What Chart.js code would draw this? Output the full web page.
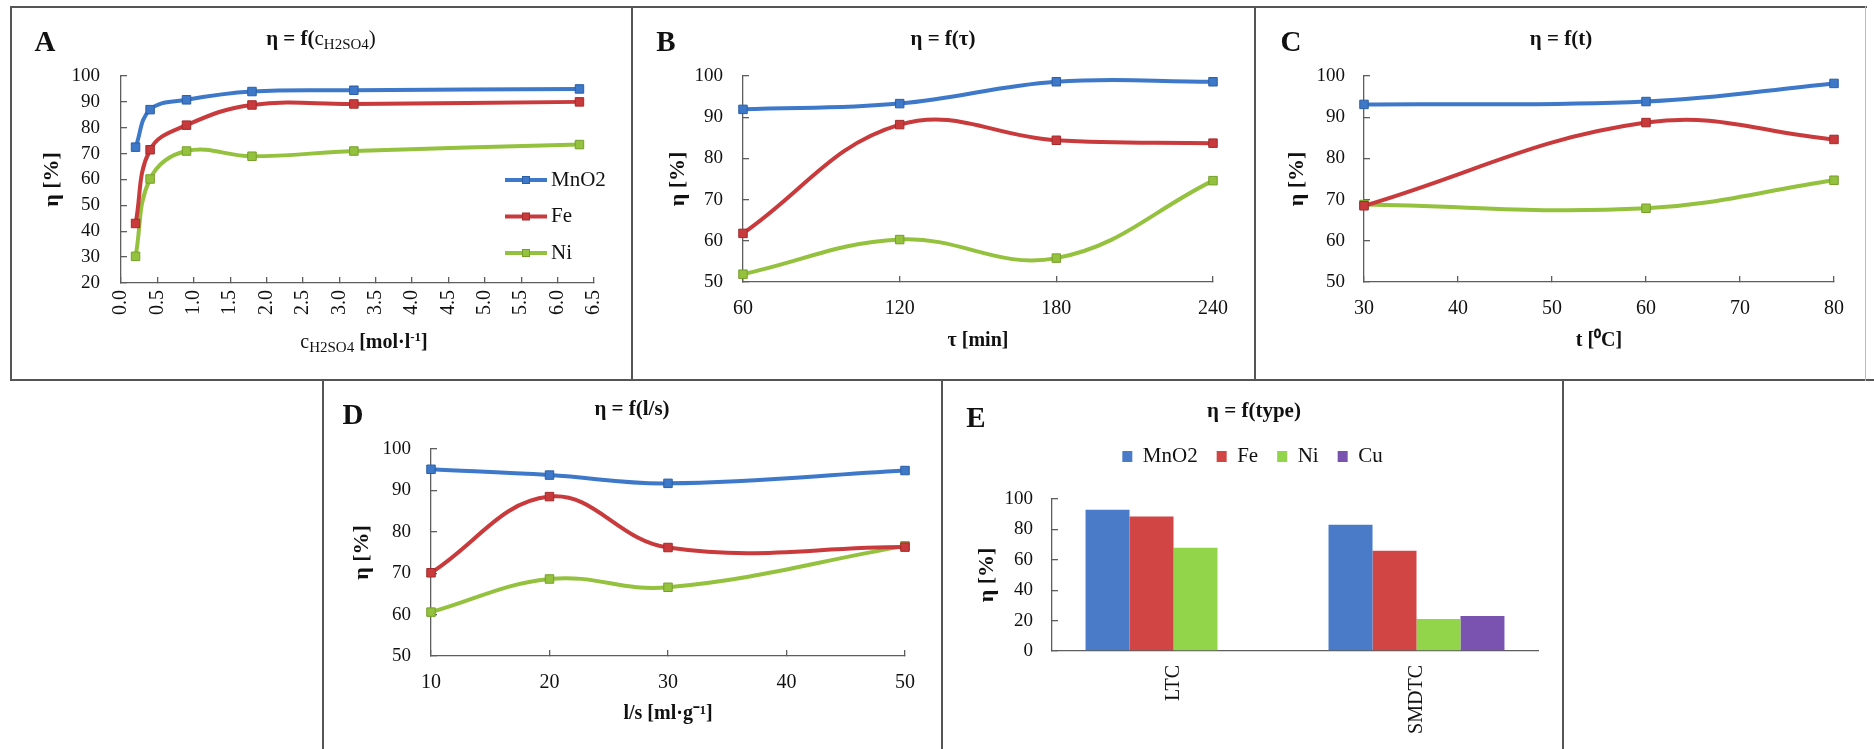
<!DOCTYPE html>
<html><head><meta charset="utf-8">
<script src="https://cdn.jsdelivr.net/npm/chart.js@4.4.1/dist/chart.umd.min.js"></script>
<style>
html,body{margin:0;padding:0;background:#fff;}
body{width:1874px;height:749px;position:relative;overflow:hidden;font-family:"Liberation Serif","Times New Roman",serif;color:#111;}
canvas{position:absolute;}
.ln{position:absolute;background:#555;pointer-events:none;}
.t{position:absolute;transform:translate(-50%,-50%);white-space:nowrap;font-weight:bold;font-size:21px;line-height:1;}
.lt{position:absolute;transform:translate(-50%,-50%);font-weight:bold;font-size:29px;line-height:1;}
.n{font-weight:normal;}
.sb{font-size:15px;position:relative;top:4px;}
.sp{font-size:13px;position:relative;top:-7px;}
</style></head><body>

<!-- panel frames -->
<div class="ln" style="left:10px;top:6px;width:1857px;height:2px"></div>
<div class="ln" style="left:10px;top:379px;width:1864px;height:2px"></div>
<div class="ln" style="left:10px;top:6px;width:2px;height:375px"></div>
<div class="ln" style="left:631px;top:6px;width:2px;height:375px"></div>
<div class="ln" style="left:1254px;top:6px;width:2px;height:375px"></div>
<div class="ln" style="left:1865px;top:6px;width:1px;height:375px;background:#bbb"></div>
<div class="ln" style="left:322px;top:380px;width:2px;height:369px"></div>
<div class="ln" style="left:941px;top:380px;width:2px;height:369px"></div>
<div class="ln" style="left:1562px;top:380px;width:2px;height:369px"></div>

<canvas id="cA" width="620" height="371" style="left:11px;top:8px;width:620px;height:371px"></canvas>
<canvas id="cB" width="621" height="371" style="left:633px;top:8px;width:621px;height:371px"></canvas>
<canvas id="cC" width="609" height="371" style="left:1256px;top:8px;width:609px;height:371px"></canvas>
<canvas id="cD" width="617" height="367" style="left:324px;top:382px;width:617px;height:367px"></canvas>
<canvas id="cE" width="619" height="367" style="left:943px;top:382px;width:619px;height:367px"></canvas>

<!-- panel letters and titles -->
<div class="lt" style="left:45px;top:41px">A</div>
<div class="lt" style="left:666px;top:41px">B</div>
<div class="lt" style="left:1291px;top:41px">C</div>
<div class="lt" style="left:353px;top:414px">D</div>
<div class="lt" style="left:976px;top:417px">E</div>

<div class="t" style="left:321px;top:38px">η = f(<span class="n">c<span class="sb">H2SO4</span>)</span></div>
<div class="t" style="left:943px;top:38px">η = f(τ)</div>
<div class="t" style="left:1561px;top:38px">η = f(t)</div>
<div class="t" style="left:632px;top:408px">η = f(l/s)</div>
<div class="t" style="left:1254px;top:410px">η = f(type)</div>
<div class="t" style="left:364px;top:341px;font-size:20px"><span class="n">c<span class="sb">H2SO4</span></span> [mol·l<span class="sp">-1</span>]</div>

<script>
// ---------- data ----------
const seriesNames = ['MnO2', 'Fe', 'Ni', 'Cu'];

// A: eta = f(c H2SO4)
const aConc = [0.2, 0.4, 0.9, 1.8, 3.2, 6.3];
const aMnO2 = [72.5, 87, 90.8, 94, 94.5, 95];
const aFe   = [43, 71.5, 81, 88.8, 89.2, 90];
const aNi   = [30.3, 60.2, 71, 69, 71, 73.5];
const aXTicks  = [0, 0.5, 1, 1.5, 2, 2.5, 3, 3.5, 4, 4.5, 5, 5.5, 6, 6.5];
const aXLabels = ['0.0','0.5','1.0','1.5','2.0','2.5','3.0','3.5','4.0','4.5','5.0','5.5','6.0','6.5'];

// B: eta = f(tau)
const bTime = [60, 120, 180, 240];
const bMnO2 = [91.9, 93.3, 98.6, 98.6];
const bFe   = [61.8, 88.2, 84.4, 83.7];
const bNi   = [51.9, 60.3, 55.8, 74.6];
const bXTicks  = [60, 120, 180, 240];
const bXLabels = ['60', '120', '180', '240'];

// C: eta = f(t)
const cTemp = [30, 60, 80];
const cMnO2 = [93.1, 93.8, 98.2];
const cFe   = [68.5, 88.7, 84.6];
const cNi   = [68.8, 67.9, 74.7];
const cXTicks  = [30, 40, 50, 60, 70, 80];
const cXLabels = ['30', '40', '50', '60', '70', '80'];

// D: eta = f(l/s)
const dRatio = [10, 20, 30, 50];
const dMnO2 = [95.1, 93.7, 91.7, 94.8];
const dFe   = [70.1, 88.5, 76.2, 76.3];
const dNi   = [60.6, 68.6, 66.6, 76.6];
const dXTicks  = [10, 20, 30, 40, 50];
const dXLabels = ['10', '20', '30', '40', '50'];

// E: eta = f(type)
const eTypes = ['LTC', 'SMDTC'];
const eMnO2 = [93, 83];
const eFe   = [88.5, 66];
const eNi   = [68, 21];
const eCu   = [null, 23];

// ---------- styles ----------
const SERIF = '"Liberation Serif","Times New Roman",serif';
const TXT = '#111', AX = '#5e5e5e';
const LINE_COL = {MnO2: '#3D78C9', Fe: '#C93A3C', Ni: '#94C13E'};
const EDGE_COL = {MnO2: '#2C5EA6', Fe: '#A42A2C', Ni: '#769F2A'};
const BAR_COL  = {MnO2: '#4A7BC9', Fe: '#D24545', Ni: '#92D44A', Cu: '#7A52B0'};
Chart.defaults.font.family = SERIF;
Chart.defaults.color = TXT;

function legendImage(name) {
  const c = document.createElement('canvas');
  c.width = 42; c.height = 12;
  const g = c.getContext('2d');
  g.strokeStyle = LINE_COL[name]; g.lineWidth = 4;
  g.beginPath(); g.moveTo(0, 6); g.lineTo(42, 6); g.stroke();
  g.fillStyle = LINE_COL[name]; g.fillRect(17, 2, 8, 8);
  g.strokeStyle = EDGE_COL[name]; g.lineWidth = 1; g.strokeRect(17.5, 2.5, 7, 7);
  return c;
}

function placeLegend(l, t, r, b) {
  return { id: 'placeLegend', afterLayout(chart) {
    const lg = chart.legend; if (!lg) return;
    lg.left = l; lg.top = t; lg.right = r; lg.bottom = b; lg.width = r - l; lg.height = b - t;
  }};
}

function axisGrid() {
  return { display: true, drawOnChartArea: false, drawTicks: true, tickLength: -6, color: AX, lineWidth: 1.3 };
}

function lineChart(id, g, xs, xTicks, xLabels, yMin, yMax, yStep, series, xTitle, legendOpts, plugins) {
  return new Chart(document.getElementById(id), {
    type: 'line',
    data: { datasets: series.map(s => ({
      label: s.name,
      data: xs.map((x, i) => ({x: x, y: s.values[i]})),
      borderColor: LINE_COL[s.name], backgroundColor: LINE_COL[s.name],
      borderWidth: 4, tension: 0.4, clip: false,
      pointStyle: 'rect', pointRadius: 6, pointBackgroundColor: LINE_COL[s.name],
      pointBorderColor: EDGE_COL[s.name], pointBorderWidth: 1
    })) },
    options: {
      responsive: false, animation: false, devicePixelRatio: 1,
      layout: { padding: { top: g.pt, right: g.pr, left: 0, bottom: 0 } },
      plugins: { legend: legendOpts || { display: false }, tooltip: { enabled: false }, title: { display: false } },
      scales: {
        x: {
          type: 'linear', min: xTicks[0], max: xTicks[xTicks.length - 1],
          afterBuildTicks: s => { s.ticks = xTicks.map(v => ({ value: v })); },
          afterFit: s => { s.height = g.xh; },
          grid: axisGrid(),
          border: { display: true, color: AX, width: 1.3 },
          ticks: { autoSkip: false, minRotation: g.rot, maxRotation: g.rot, padding: g.xtp, color: TXT,
                   font: { size: 20 }, callback: (v, i) => xLabels[i] },
          title: xTitle ? { display: true, text: xTitle, color: TXT, font: { size: 20, weight: 'bold' },
                            padding: { top: 0, bottom: g.xtt } } : { display: false }
        },
        y: {
          min: yMin, max: yMax,
          afterFit: s => { s.width = g.yw; },
          grid: axisGrid(),
          border: { display: true, color: AX, width: 1.3 },
          ticks: { stepSize: yStep, padding: g.ytp, color: TXT, font: { size: 19 } },
          title: { display: true, text: 'η [%]', color: TXT, font: { size: 22, weight: 'bold' },
                   padding: { top: g.ytt, bottom: 0 } }
        }
      }
    },
    plugins: plugins || []
  });
}

// A
lineChart('cA', { pt: 68, pr: 23, xh: 96, yw: 110, ytp: 27, xtp: 13, ytt: 28, xtt: 0, rot: 90 },
  aConc, aXTicks, aXLabels, 20, 100, 10,
  [{ name: 'MnO2', values: aMnO2 }, { name: 'Fe', values: aFe }, { name: 'Ni', values: aNi }],
  null,
  { display: true, position: 'chartArea', align: 'start',
    labels: { usePointStyle: true, pointStyleWidth: 29, padding: 15.5, color: TXT, font: { size: 21 },
      generateLabels: chart => Chart.defaults.plugins.legend.labels.generateLabels(chart).map(l =>
        Object.assign(l, { pointStyle: legendImage(chart.data.datasets[l.datasetIndex].label) })) } },
  [placeLegend(485, 146, 620, 345)]);

// B
lineChart('cB', { pt: 68, pr: 41, xh: 97, yw: 110, ytp: 26, xtp: 21, ytt: 32, xtt: 26, rot: 0 },
  bTime, bXTicks, bXLabels, 50, 100, 10,
  [{ name: 'MnO2', values: bMnO2 }, { name: 'Fe', values: bFe }, { name: 'Ni', values: bNi }],
  'τ [min]');

// C
lineChart('cC', { pt: 68, pr: 25, xh: 97, yw: 108, ytp: 25, xtp: 21, ytt: 28, xtt: 26, rot: 0 },
  cTemp, cXTicks, cXLabels, 50, 100, 10,
  [{ name: 'MnO2', values: cMnO2 }, { name: 'Fe', values: cFe }, { name: 'Ni', values: cNi }],
  't [⁰C]');

// D
lineChart('cD', { pt: 67, pr: 36, xh: 93, yw: 107, ytp: 26, xtp: 21, ytt: 25, xtt: 23, rot: 0 },
  dRatio, dXTicks, dXLabels, 50, 100, 10,
  [{ name: 'MnO2', values: dMnO2 }, { name: 'Fe', values: dFe }, { name: 'Ni', values: dNi }],
  'l/s [ml·g⁻¹]');

// E
new Chart(document.getElementById('cE'), {
  type: 'bar',
  data: { labels: eTypes, datasets: [
    { label: 'MnO2', data: eMnO2, backgroundColor: BAR_COL.MnO2 },
    { label: 'Fe',   data: eFe,   backgroundColor: BAR_COL.Fe },
    { label: 'Ni',   data: eNi,   backgroundColor: BAR_COL.Ni },
    { label: 'Cu',   data: eCu,   backgroundColor: BAR_COL.Cu }
  ] },
  options: {
    responsive: false, animation: false, devicePixelRatio: 1,
    layout: { padding: { top: 67, right: 24, left: 0, bottom: 0 } },
    datasets: { bar: { categoryPercentage: 0.724, barPercentage: 1, borderWidth: 0 } },
    plugins: {
      tooltip: { enabled: false },
      legend: { display: true, position: 'top', align: 'center',
        labels: { boxWidth: 10, boxHeight: 11, padding: 19, color: TXT, font: { size: 21 } } }
    },
    scales: {
      x: {
        afterFit: s => { s.height = 98; },
        grid: { display: false, drawTicks: false },
        border: { display: true, color: AX, width: 1.3 },
        ticks: { autoSkip: false, minRotation: 90, maxRotation: 90, padding: 14, color: TXT, font: { size: 20 } }
      },
      y: {
        min: 0, max: 100,
        afterFit: s => { s.width = 109; },
        grid: axisGrid(),
        border: { display: true, color: AX, width: 1.3 },
        ticks: { stepSize: 20, padding: 25, color: TXT, font: { size: 19 } },
        title: { display: true, text: 'η [%]', color: TXT, font: { size: 22, weight: 'bold' }, padding: { top: 31, bottom: 0 } }
      }
    }
  },
  plugins: [placeLegend(0, 45, 619, 95)]
});
</script>
</body></html>
